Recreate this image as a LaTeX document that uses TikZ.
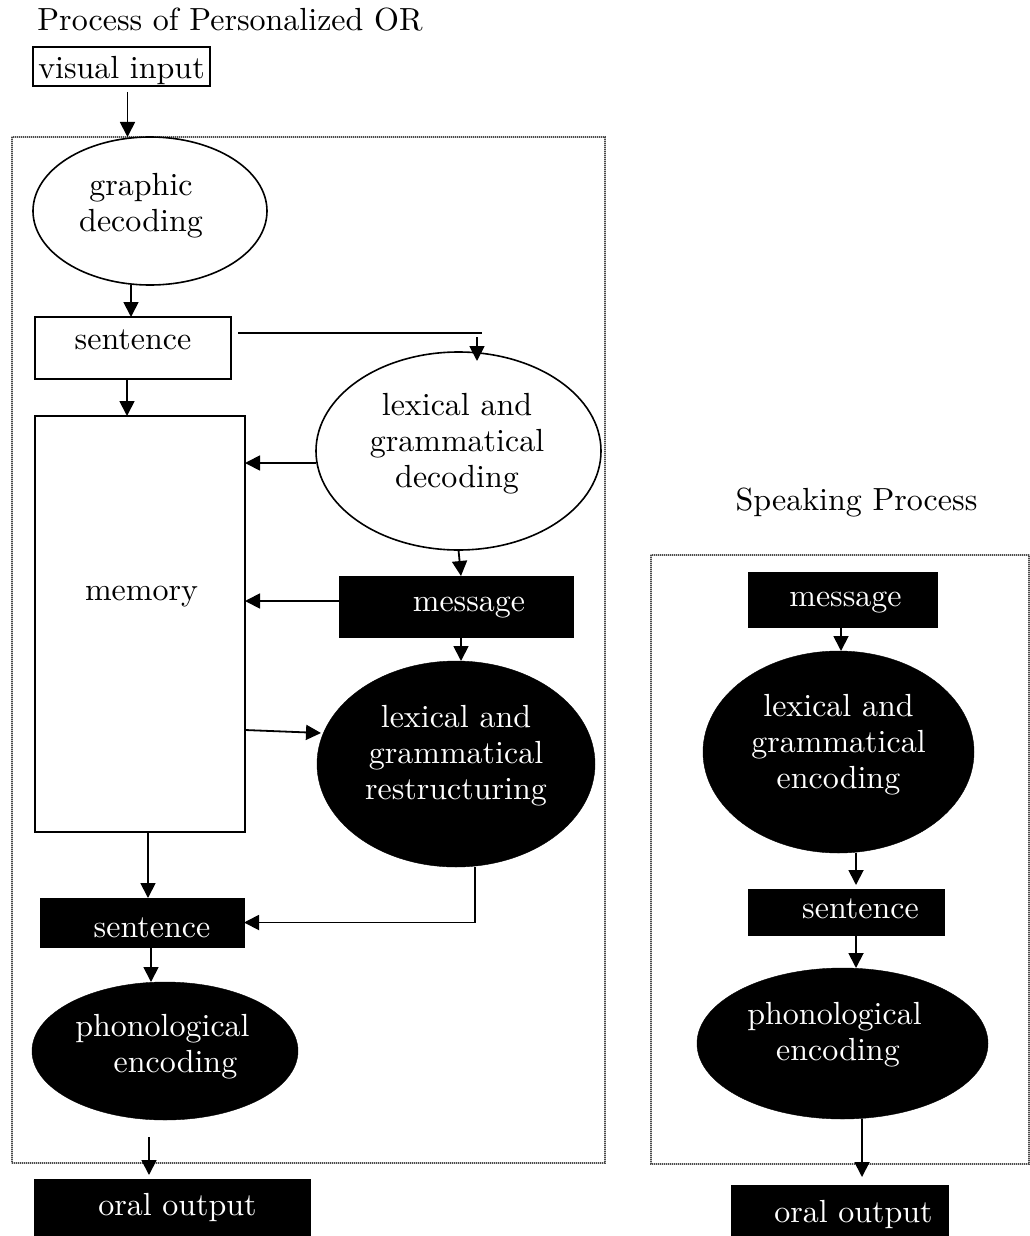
\documentclass[tikz,border=0pt]{standalone}
\usepackage{fontspec}
\setmainfont{lmroman10-regular.otf}
\usetikzlibrary{shapes.geometric,arrows.meta}
\newcommand\Tx[3]{\makebox[0pt]{\hspace*{#2}\raisebox{#1}[0pt][0pt]{\begin{tabular}{@{}c@{}}#3\end{tabular}}}}
\tikzset{
  base/.style={inner sep=0pt, outer sep=0pt, font=\fontsize{32}{36}\selectfont},
  wbox/.style={base, rectangle, draw=black, line width=1.8pt, fill=white},
  bbox/.style={base, rectangle, fill=black, draw=black, text=white},
  well/.style={base, ellipse, draw=black, line width=1.6pt, fill=white},
  bell/.style={base, ellipse, fill=black, draw=black, text=white},
  framebox/.style={preaction={draw=gray!45, line width=2.6pt}, draw=black!70, line width=2.6pt, dash pattern=on 1pt off 1pt},
  arr/.style={-{Triangle[width=15pt,length=15pt]}, line width=1.8pt},
  plainline/.style={line width=1.8pt}
}
\begin{document}
\begin{tikzpicture}[x=1pt,y=-1pt]
\useasboundingbox (0,0) rectangle (1030,1236);
% frames
\draw[framebox] (12,137) rectangle (605,1163);
\draw[framebox] (651,555) rectangle (1029,1164);
% titles
\node[base] (ttl) at (230,22) {\Tx{-8pt}{0pt}{Process of Personalized OR}};
\node[base] (ttr) at (856.5,502) {\Tx{-8pt}{0pt}{Speaking Process}};
% left column
\node[wbox, minimum width=177pt, minimum height=39pt] (vis) at (121.5,66.5) {\Tx{-11pt}{0pt}{visual input}};
\node[well, minimum width=234pt, minimum height=148pt] (gd) at (150,211) {\Tx{-2pt}{-18pt}{graphic\\decoding}};
\node[wbox, minimum width=196pt, minimum height=62pt] (s1) at (133,348) {\Tx{-1pt}{0pt}{sentence}};
\node[wbox, minimum width=210pt, minimum height=416pt] (mem) at (140,624) {\Tx{24pt}{3pt}{memory}};
\node[well, minimum width=285pt, minimum height=198pt] (lgd) at (458.5,451) {\Tx{0pt}{-3pt}{lexical and\\grammatical\\decoding}};
\node[bbox, minimum width=234pt, minimum height=61pt] (msg) at (456,606.5) {\Tx{-4pt}{26pt}{message}};
\node[bell, minimum width=278pt, minimum height=206pt] (lgr) at (456,764) {\Tx{1pt}{0pt}{lexical and\\grammatical\\restructuring}};
\node[bbox, minimum width=204pt, minimum height=49pt] (s2) at (142,922.5) {\Tx{-14pt}{20pt}{sentence}};
\node[bell, minimum width=266pt, minimum height=138pt] (phon) at (165,1051) {\Tx{-3pt}{-5pt}{phonological\\\hspace*{26pt}encoding}};
\node[bbox, minimum width=276pt, minimum height=57pt] (oralL) at (172,1207.5) {\Tx{-7pt}{11pt}{oral output}};
% right column
\node[bbox, minimum width=189pt, minimum height=55pt] (msgR) at (842.5,599.5) {\Tx{-6pt}{6pt}{message}};
\node[bell, minimum width=271pt, minimum height=202pt] (lgeR) at (838.5,752) {\Tx{0pt}{0pt}{lexical and\\grammatical\\encoding}};
\node[bbox, minimum width=196pt, minimum height=46pt] (sR) at (846,912) {\Tx{-6pt}{29pt}{sentence}};
\node[bell, minimum width=291pt, minimum height=151pt] (phR) at (842.5,1043.5) {\Tx{2pt}{-16pt}{phonological\\\hspace*{7pt}encoding}};
\node[bbox, minimum width=217pt, minimum height=51pt] (oralR) at (839.5,1210.5) {\Tx{-11pt}{28pt}{oral output}};
% free ends
\coordinate (c1) at (482,333);
\coordinate (c2) at (477,337);
\coordinate (c3) at (477,361);
% left connectors
\draw[arr] ([xshift=6pt,yshift=-6pt]vis.south) -- ([xshift=6pt]vis.south |- gd.north);
\draw[arr] ([xshift=-2pt]s1.north |- gd.south) -- ([xshift=-2pt]s1.north);
\draw[plainline] ([xshift=7pt,yshift=15pt]s1.east) -- (c1);
\draw[arr] (c2) -- (c3);
\draw[arr] ([xshift=-6pt]s1.south) -- ([xshift=-6pt]s1.south |- mem.north);
\draw[arr] ([yshift=-12pt]lgd.west) -- ([yshift=-12pt]lgd.west -| mem.east);
\draw[arr] (lgd.south) -- ([xshift=5pt]msg.north);
\draw[arr] ([yshift=5.5pt]msg.west) -- ([yshift=5.5pt]msg.west -| mem.east);
\draw[arr] ([xshift=5pt]msg.south) -- ([xshift=5pt]msg.south |- lgr.north);
\draw[arr] ([yshift=-106pt]mem.east) -- ([xshift=4pt,yshift=31pt]lgr.west);
\draw[arr] ([xshift=8pt]mem.south) -- ([xshift=8pt]mem.south |- s2.north);
\draw[arr] ([xshift=19pt]lgr.south) |- (s2.east);
\draw[arr] ([xshift=9pt]s2.south) -- ([xshift=9pt]s2.south |- phon.north);
\draw[arr] ([xshift=-16pt,yshift=-17pt]phon.south) -- ([xshift=-23pt,yshift=4pt]oralL.north);
% right connectors
\draw[arr] ([xshift=-1.5pt]msgR.south) -- ([xshift=-1.5pt]msgR.south |- lgeR.north);
\draw[arr] ([xshift=17.5pt]lgeR.south) -- ([xshift=10pt,yshift=4pt]sR.north);
\draw[arr] ([xshift=10pt]sR.south) -- ([xshift=10pt]sR.south |- phR.north);
\draw[arr] ([xshift=19.5pt]phR.south) -- ([xshift=22.5pt,yshift=8pt]oralR.north);
\end{tikzpicture}
\end{document}
